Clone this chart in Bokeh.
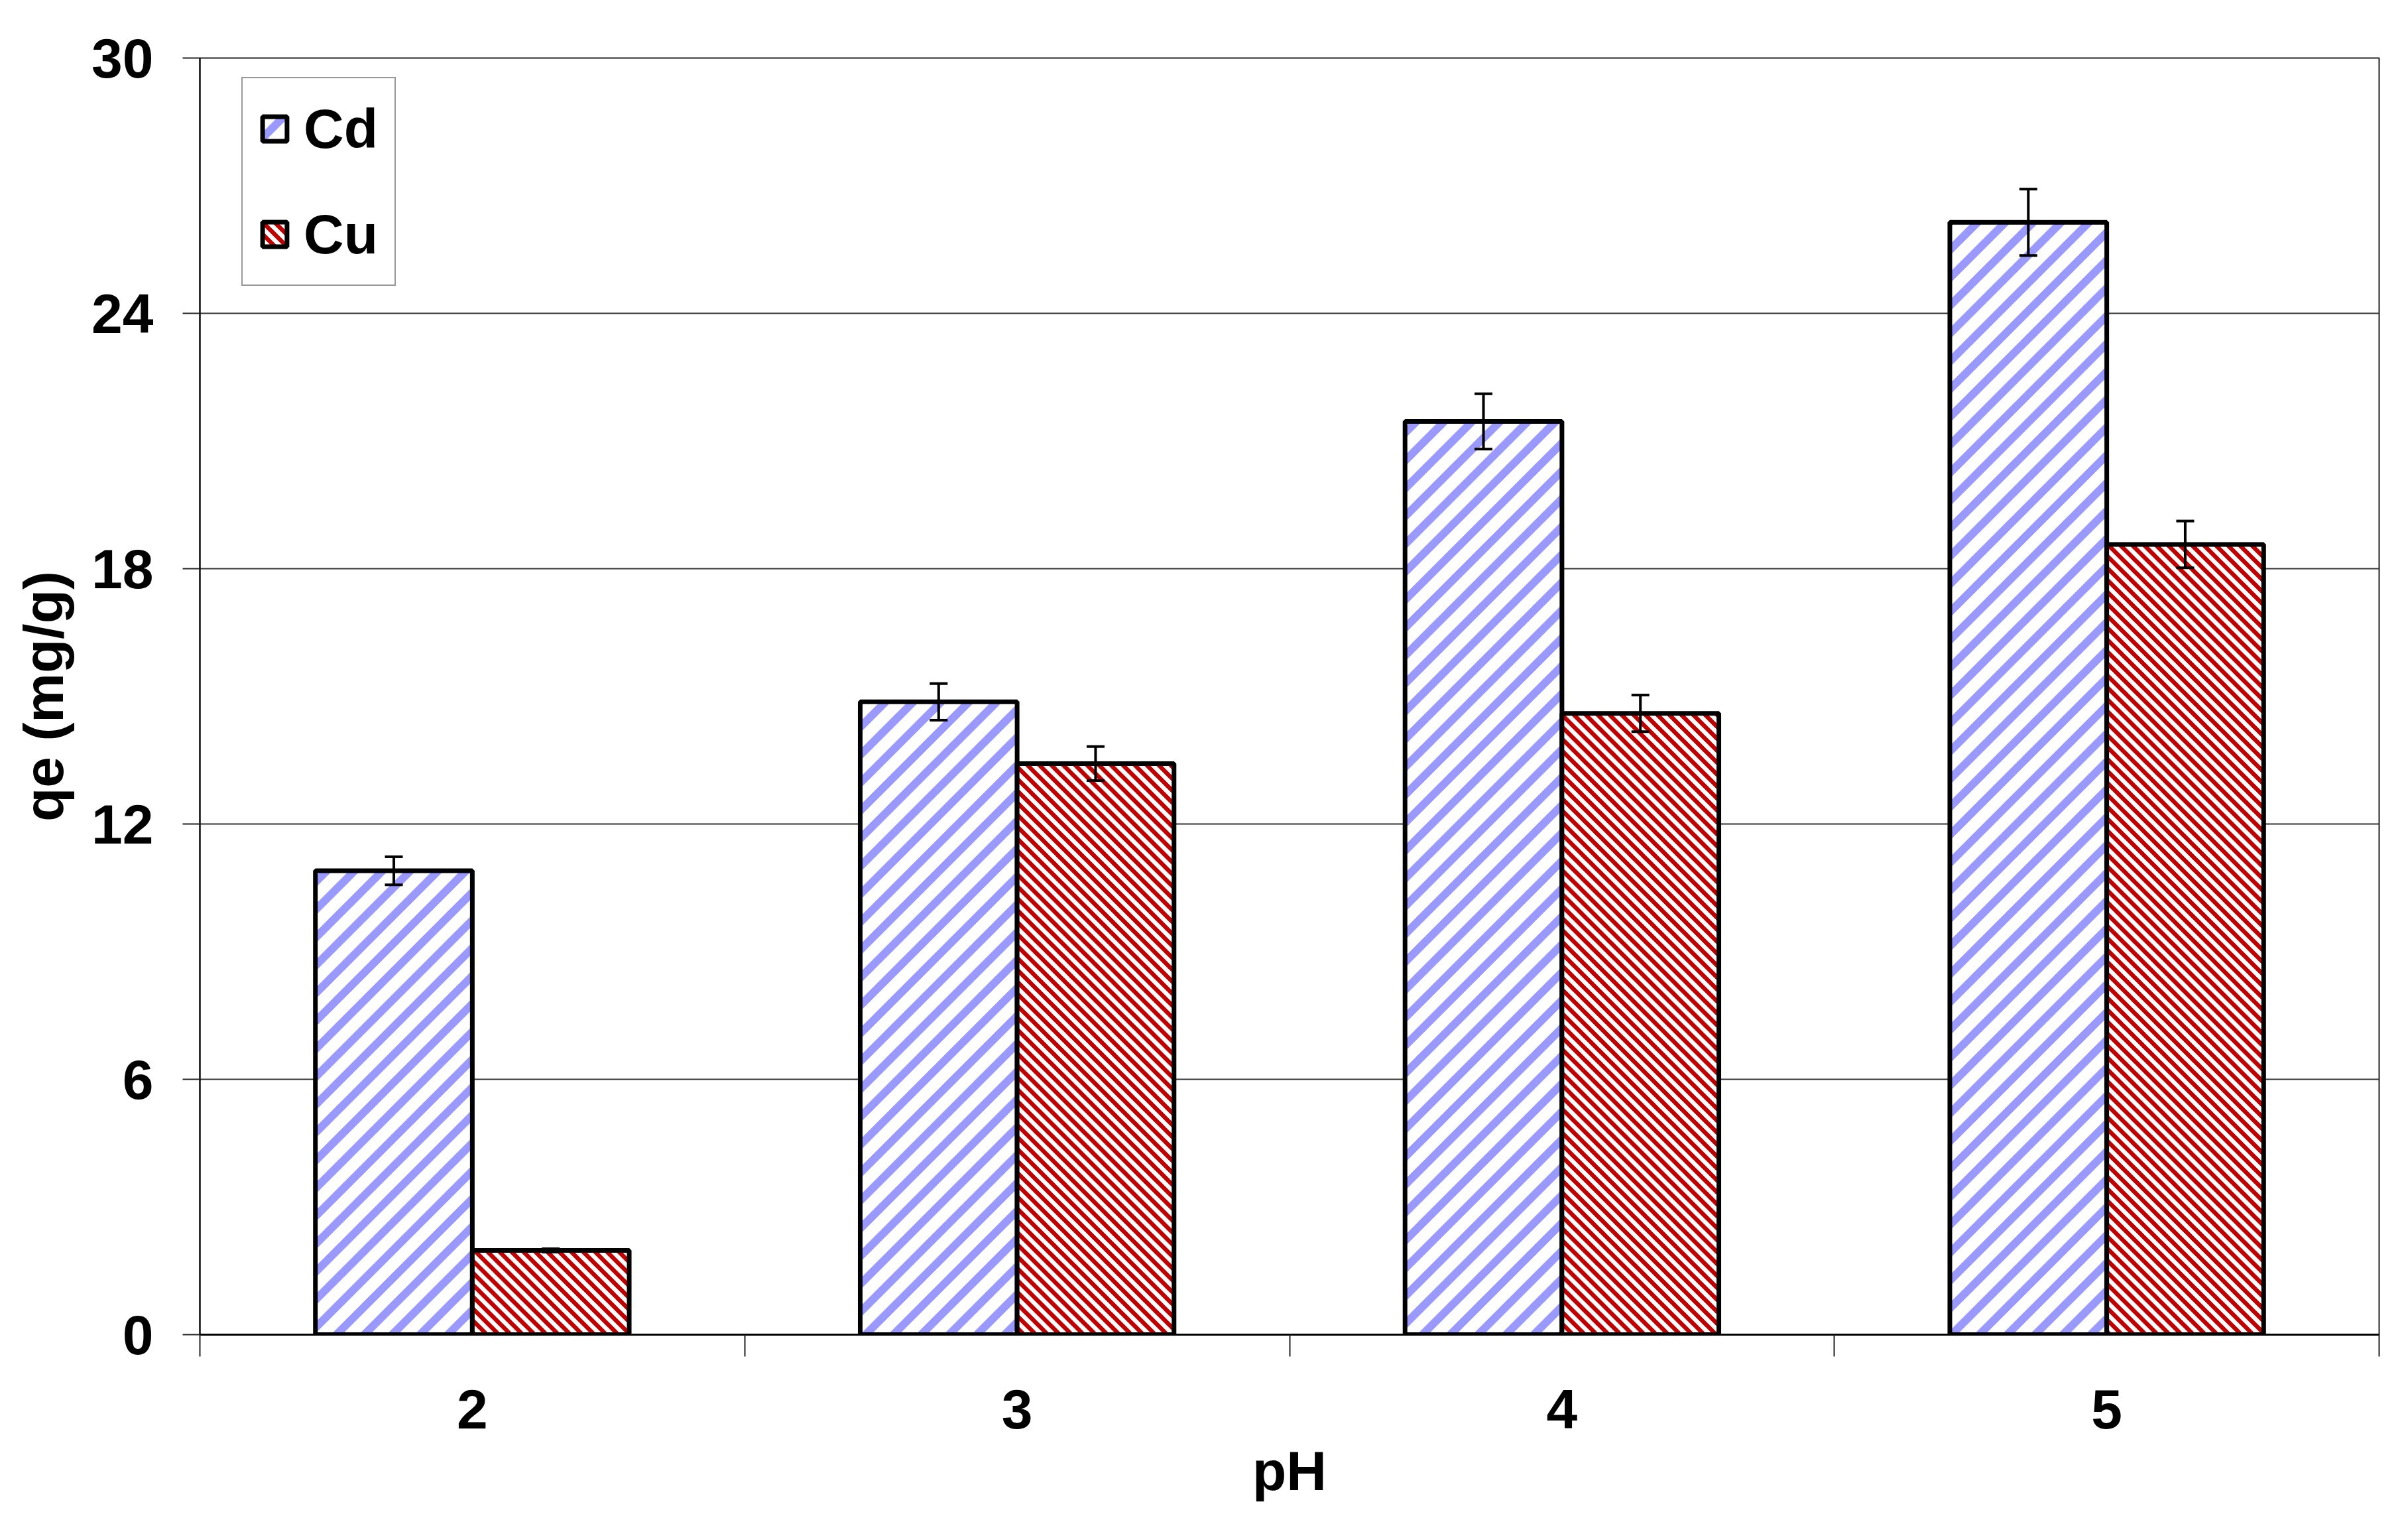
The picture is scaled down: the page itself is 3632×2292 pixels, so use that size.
from bokeh.plotting import figure
from bokeh.models import (ColumnDataSource, Range1d, FixedTicker, Whisker, TeeHead,
                          Legend, LegendItem, CanvasTexture)
from bokeh.core.properties import value
from bokeh.transform import dodge
from bokeh.embed import file_html
from bokeh.resources import INLINE

# ---- data ----
ph = [2, 3, 4, 5]
ph_labels = ["2", "3", "4", "5"]
cd = [10.9, 14.87, 21.46, 26.14]
cd_err = [0.33, 0.43, 0.65, 0.78]
cu = [1.98, 13.42, 14.6, 18.57]
cu_err = [0.04, 0.40, 0.43, 0.55]
y_ticks = [0, 6, 12, 18, 24, 30]

src = ColumnDataSource(dict(
    ph=ph, cd=cd, cu=cu,
    cd_up=[v + e for v, e in zip(cd, cd_err)],
    cd_lo=[v - e for v, e in zip(cd, cd_err)],
    cu_up=[v + e for v, e in zip(cu, cu_err)],
    cu_lo=[v - e for v, e in zip(cu, cu_err)],
))

FONT = "Liberation Sans"
BW = 0.288


def stripe_code(size, width, color, upward):
    if upward:
        seg = "c2.moveTo(k*S - S, 2*S); c2.lineTo(k*S + 2*S, -S);"
    else:
        seg = "c2.moveTo(k*S - S, -S); c2.lineTo(k*S + 2*S, 2*S);"
    return f"""
const S = {size};
let cv = null;
if (ctx.canvas) {{ cv = ctx.canvas; }}
else if (ctx._ctx && ctx._ctx.canvas) {{ cv = ctx._ctx.canvas; }}
let c2 = ctx;
if (cv) {{
  cv.width = S; cv.height = S;
  c2 = cv.getContext("2d");
  c2.setTransform(1, 0, 0, 1, 0, 0);
}}
c2.clearRect(0, 0, S, S);
c2.strokeStyle = "{color}";
c2.lineWidth = {width};
c2.beginPath();
for (let k = -3; k <= 3; k++) {{ {seg} }}
c2.stroke();
"""


up_tex = CanvasTexture(code=stripe_code(42, 12, "#9999FF", True))
down_tex = CanvasTexture(code=stripe_code(18, 6.5, "#C00000", False))

p = figure(width=3624, height=2284, output_backend="svg", toolbar_location=None,
           x_range=Range1d(1.5, 5.5), y_range=Range1d(0, 30),
           min_border_left=301, min_border_right=36, min_border_top=87,
           min_border_bottom=272)
p.background_fill_color = "white"
p.border_fill_color = "white"
p.outline_line_color = "#222222"
p.outline_line_width = 2

# bars
r_cd = p.vbar(x=dodge("ph", -BW / 2, range=p.x_range), top="cd", width=BW, source=src,
              fill_color="white", line_color="black", line_width=7,
              hatch_pattern=value("cdtex"), hatch_extra={"cdtex": up_tex},
              hatch_color="#9999FF", hatch_scale=42, hatch_weight=12)
r_cu = p.vbar(x=dodge("ph", BW / 2, range=p.x_range), top="cu", width=BW, source=src,
              fill_color="white", line_color="black", line_width=7,
              hatch_pattern=value("cutex"), hatch_extra={"cutex": down_tex},
              hatch_color="#C00000", hatch_scale=18, hatch_weight=6.5)

# error bars
for off, up, lo in [(-BW / 2, "cd_up", "cd_lo"), (BW / 2, "cu_up", "cu_lo")]:
    w = Whisker(base=dodge("ph", off, range=p.x_range), upper=up, lower=lo, source=src,
                line_color="black", line_width=4, level="annotation",
                upper_head=TeeHead(size=27, line_width=4, line_color="black"),
                lower_head=TeeHead(size=27, line_width=4, line_color="black"))
    p.add_layout(w)

# axes
xa = p.xaxis[0]
xa.ticker = FixedTicker(ticks=ph, minor_ticks=[1.5, 2.5, 3.5, 4.5, 5.5])
xa.major_label_overrides = {v: l for v, l in zip(ph, ph_labels)}
xa.major_tick_out = 0
xa.major_tick_in = 0
xa.minor_tick_out = 33
xa.minor_tick_in = 0
xa.minor_tick_line_color = "#222222"
xa.minor_tick_line_width = 2
xa.axis_line_color = "black"
xa.axis_line_width = 3
xa.major_label_standoff = 50
xa.major_label_text_font = FONT
xa.major_label_text_font_style = "bold"
xa.major_label_text_font_size = "84px"
xa.major_label_text_color = "black"
xa.axis_label = "pH"
xa.axis_label_text_font = FONT
xa.axis_label_text_font_style = "bold"
xa.axis_label_text_font_size = "84px"
xa.axis_label_text_color = "black"
xa.axis_label_standoff = 14

ya = p.yaxis[0]
ya.ticker = FixedTicker(ticks=y_ticks)
ya.major_tick_out = 26
ya.major_tick_in = 0
ya.minor_tick_out = 0
ya.minor_tick_in = 0
ya.major_tick_line_color = "#222222"
ya.major_tick_line_width = 2
ya.axis_line_color = "black"
ya.axis_line_width = 2
ya.major_label_standoff = 44
ya.major_label_text_font = FONT
ya.major_label_text_font_style = "bold"
ya.major_label_text_font_size = "84px"
ya.major_label_text_color = "black"
ya.axis_label = "qe (mg/g)"
ya.axis_label_text_font = FONT
ya.axis_label_text_font_style = "bold"
ya.axis_label_text_font_size = "84px"
ya.axis_label_text_color = "black"
ya.axis_label_standoff = 22

p.xgrid.visible = False
p.ygrid.ticker = FixedTicker(ticks=y_ticks)
p.ygrid.grid_line_color = "#333333"
p.ygrid.grid_line_width = 2

legend = Legend(items=[LegendItem(label="Cd", renderers=[r_cd]),
                       LegendItem(label="Cu", renderers=[r_cu])],
                location=(63, 1581), orientation="vertical",
                glyph_width=46, glyph_height=46, label_height=102,
                label_text_font=FONT, label_text_font_style="bold",
                label_text_font_size="84px", label_text_color="black",
                padding=25, spacing=57, label_standoff=21, margin=0,
                border_line_color="#333333", border_line_width=2,
                background_fill_color="white", background_fill_alpha=1.0)
p.add_layout(legend)

open("out.html", "w").write(file_html(p, INLINE))
